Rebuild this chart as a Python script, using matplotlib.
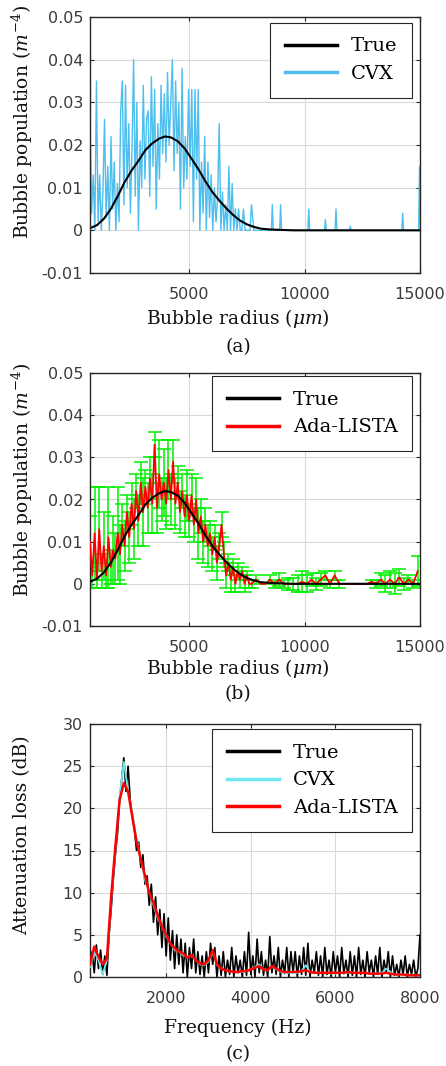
import numpy as np
import matplotlib
matplotlib.use('Agg')
import matplotlib.pyplot as plt
from matplotlib.lines import Line2D

plt.rcParams['mathtext.fontset'] = 'dejavuserif'

# ---------------- data ----------------
# True bubble population (panels a, b)
true_r = [700, 1000, 1300, 1600, 1900, 2200, 2500, 2800, 3100, 3400, 3700, 3950,
          4200, 4500, 4800, 5100, 5400, 5700, 6000, 6300, 6600, 6900, 7200, 7500,
          7800, 8100, 8500, 9000, 9500, 15000]
true_pop = [.0005, .0012, .0027, .0050, .0080, .0113, .0140, .0163, .0188, .0204, .0215, .0220,
            .0218, .0209, .0192, .0168, .0143, .0115, .0090, .0070, .0052, .0036, .0023, .0014,
            .0008, .0004, .0002, .0001, 0.0, 0.0]

# CVX estimate (panel a): dense part 700..7700 um
cvx_dense = [.027, .004, .013, .000, .035, .002, .013, .000, .009, .026,
             .003, .015, .000, .022, .005, .016, .000, .011, .002, .028,
             .035, .006, .034, .010, .025, .004, .019, .040, .008, .030,
             .000, .021, .010, .034, .012, .026, .028, .008, .036, .015,
             .033, .005, .025, .012, .034, .018, .032, .016, .037, .020,
             .030, .040, .014, .035, .018, .030, .005, .038, .010, .022,
             .012, .033, .015, .033, .002, .033, .012, .033, .000, .016,
             .004, .022, .000, .016, .003, .013, .000, .010, .002, .008,
             .025, .000, .009, .000, .006, .000, .015, .000, .011, .000,
             .005, .000, .005, .000, .000, .005, .000, .000, .000, .000,
             .006]
cvx_spike_r = [8600, 8960, 10180, 10900, 11360, 11980, 14250, 14980]
cvx_spike_h = [.006, .006, .005, .0025, .005, .001, .004, .015]

# Ada-LISTA estimate (panel b): 700..7600 step 100, then 7700..14900 step 200
ada_main = [.010, .002, .012, .001, .013, .003, .009, .002, .011, .004,
            .008, .006, .012, .007, .014, .009, .017, .011, .019, .013,
            .022, .015, .024, .017, .023, .018, .025, .019, .033, .018,
            .026, .020, .024, .019, .027, .020, .029, .019, .024, .017,
            .022, .016, .021, .015, .021, .014, .020, .012, .016, .010,
            .014, .009, .012, .007, .011, .005, .009, .014, .007, .002,
            .005, .001, .004, .000, .003, .001, .003, .000, .002, .000]
ada_main_err = [.006, .003, .011, .002, .010, .004, .008, .003, .012, .004,
                .008, .006, .011, .007, .005, .006, .004, .006, .005, .007,
                .004, .006, .005, .008, .004, .006, .005, .007, .003, .006,
                .008, .005, .008, .006, .007, .006, .005, .006, .004, .005,
                .004, .005, .006, .004, .005, .004, .005, .006, .004, .005,
                .004, .005, .003, .004, .003, .004, .003, .003, .003, .003,
                .002, .003, .002, .002, .002, .002, .001, .002, .001, .001]
ada_tail = [.000, .001, .000, .000, .001, .000, .001, .000, .000, .000,
            .000, .0005, .000, .001, .000, .001, .002, .000, .002, .000,
            .000, .000, .000, .000, .000, .000, .0005, .000, .001, .000,
            .001, .000, .0015, .000, .001, .000, .003]
ada_tail_err = [.001, .001, .000, .000, .001, .001, .0015, .001, .0015, .0015,
                .002, .0025, .002, .0015, .0015, .0015, .001, .001, .001, .001,
                .000, .000, .000, .000, .000, .000, .0005, .001, .0015, .002,
                .002, .0025, .002, .0015, .001, .001, .0035]

# Attenuation loss (panel c)
att_true = [1.0, 3.0, 0.5, 3.8, 1.0, 3.2, 0.3, 2.5, 0.2,
            5.0, 8.0, 11.5, 14.5, 17.0, 21.0, 23.5, 26.0, 22.0, 25.0, 21.0,
            19.0, 17.5, 15.0, 16.0, 13.0, 14.5, 11.0, 12.0, 8.5, 11.0,
            6.5, 9.5, 5.0, 8.0, 3.5, 7.5, 2.5, 7.0, 2.0, 5.5,
            1.0, 5.0, 1.5, 4.5, 0.5, 4.0, 0.0, 3.5, 1.0, 4.5,
            0.5, 3.0, 0.3, 2.5, 0.0, 3.0, 0.5, 4.0, 1.5, 3.5,
            0.0, 2.5, 0.2, 3.0, 0.0, 2.0, 0.3, 3.5, 0.0, 2.5,
            0.5, 2.0, 0.0, 3.0, 0.2, 5.3, 0.3, 2.5, 0.0, 4.5,
            0.5, 3.0, 0.2, 2.0, 0.0, 4.8, 0.5, 2.5, 0.3, 3.5,
            0.0, 2.0, 0.4, 3.5, 0.0, 3.0, 0.5, 3.0, 0.0, 2.5,
            0.3, 3.5, 0.2, 4.0, 0.0, 2.0, 0.5, 3.0, 0.2, 2.5,
            0.0, 3.5, 0.3, 2.0, 0.0, 3.0, 0.5, 2.5, 0.0, 3.5,
            0.4, 2.0, 0.0, 3.0, 0.2, 2.5, 0.0, 3.5, 0.3, 2.0,
            0.0, 3.0, 0.5, 2.0, 0.0, 2.5, 0.3, 3.5, 0.0, 2.0,
            0.5, 3.0, 0.0, 2.5, 0.2, 1.5, 0.0, 2.0, 0.3, 2.5,
            0.0, 1.5, 0.3, 2.0, 0.0, 1.0, 5.0]
att_ada = [1.5, 3.6, 2.4, 1.5, 2.2, 9.5, 15.5, 21.0, 23.0, 22.0,
           19.0, 16.0, 14.0, 12.0, 10.0, 8.8, 7.3, 6.0, 5.0, 4.0,
           3.4, 3.0, 2.8, 2.3, 2.6, 2.0, 1.6, 1.5, 2.0, 3.2,
           1.5, 1.0, 0.8, 0.7, 0.6, 0.6, 0.7, 0.7, 0.9, 1.1,
           1.3, 0.9, 0.8, 1.3, 1.0, 0.7, 0.6, 0.6, 0.6, 0.6,
           0.7, 0.8, 0.6, 0.5, 0.5, 0.5, 0.5, 0.5, 0.5, 0.5,
           0.5, 0.6, 0.5, 0.5, 0.5, 0.5, 0.4, 0.4, 0.4, 0.4,
           0.5, 0.4, 0.3, 0.3, 0.3, 0.2, 0.2, 0.2, 0.2]
att_cvx = [1.2, 3.0, 2.0, 0.3, 2.0, 9.0, 15.0, 21.5, 25.5, 22.0,
           19.5, 16.5, 14.0, 11.5, 10.0, 8.5, 7.0, 6.0, 4.8, 4.0,
           3.2, 3.0, 2.6, 2.4, 2.5, 2.0, 1.5, 1.4, 1.8, 3.0,
           1.4, 1.0, 0.8, 0.7, 0.6, 0.6, 0.6, 0.7, 0.9, 1.2,
           1.5, 0.9, 0.8, 1.2, 0.9, 0.6, 0.5, 0.5, 0.5, 0.5,
           0.7, 1.4, 0.6, 0.5, 0.5, 0.5, 0.5, 0.4, 0.4, 0.5,
           0.5, 0.5, 0.5, 0.5, 0.5, 0.5, 0.4, 0.4, 0.4, 0.5,
           1.0, 0.6, 0.3, 0.3, 0.3, 0.3, 0.2, 0.2, 0.2]

ytick_pop = [-0.01, 0, 0.01, 0.02, 0.03, 0.04, 0.05]
ytick_pop_lbl = ['-0.01', '0', '0.01', '0.02', '0.03', '0.04', '0.05']
xtick_r = [5000, 10000, 15000]
ytick_att = [0, 5, 10, 15, 20, 25, 30]
xtick_f = [2000, 4000, 6000, 8000]

# ---------------- figure ----------------
W, H = 446, 1066
fig = plt.figure(figsize=(W / 100, H / 100), dpi=100)

def add_ax(l, t, r, b):
    return fig.add_axes([l / W, 1 - b / H, (r - l) / W, (b - t) / H])

SERIF = 'DejaVu Serif'
TICKC = '#3a3a3a'
CVX_BLUE = '#4DBEEE'
CYAN = '#70E6EE'
GREEN = '#00F000'

def style(ax):
    ax.grid(True, color='#dadada', lw=0.8)
    ax.set_axisbelow(True)
    for s in ax.spines.values():
        s.set_color('#262626')
        s.set_linewidth(1.0)
    ax.tick_params(direction='in', length=3, width=0.8, color='#262626',
                   labelcolor=TICKC, labelsize=11.5, top=True, right=True, pad=5)
    ax.tick_params(axis='x', pad=10)
    for lbl in ax.get_xticklabels() + ax.get_yticklabels():
        lbl.set_family('DejaVu Sans')

def legend(ax, handles, labels, anchor):
    leg = ax.legend(handles, labels, loc='upper right', bbox_to_anchor=anchor,
                    borderaxespad=0, prop={'family': SERIF, 'size': 14},
                    frameon=True, fancybox=False, edgecolor='#262626', framealpha=1,
                    handlelength=2.7, handletextpad=0.7, labelspacing=0.5,
                    borderpad=0.75)
    leg.get_frame().set_linewidth(0.8)

# ---- panel (a)
axA = add_ax(90, 17, 420, 273)
r_dense = np.linspace(700, 7700, len(cvx_dense))
cvx_r = list(r_dense) + [7800]
cvx_v = list(cvx_dense) + [0.0]
for rs, hs in zip(cvx_spike_r, cvx_spike_h):
    cvx_r += [rs - 40, rs, rs + 40]
    cvx_v += [0.0, hs, 0.0]
axA.plot(cvx_r, cvx_v, color=CVX_BLUE, lw=1.0)
axA.plot(true_r, true_pop, color='black', lw=1.5)
axA.set_xlim(700, 15000)
axA.set_ylim(-0.01, 0.05)
axA.set_xticks(xtick_r)
axA.set_yticks(ytick_pop, ytick_pop_lbl)
style(axA)
legend(axA, [Line2D([], [], color='black', lw=2.5), Line2D([], [], color=CVX_BLUE, lw=2.5)],
       ['True', 'CVX'], (0.976, 0.977))

# ---- panel (b)
axB = add_ax(90, 373, 420, 626)
r_main = np.linspace(700, 7600, len(ada_main))
r_tail = np.linspace(7700, 14900, len(ada_tail))
ada_r = np.concatenate([r_main, r_tail])
ada_v = np.array(ada_main + ada_tail)
ada_e = np.array(ada_main_err + ada_tail_err)
m = ada_e > 0
axB.errorbar(ada_r[m], ada_v[m], yerr=ada_e[m], fmt='none', ecolor=GREEN,
             elinewidth=1.1, capsize=5, capthick=1.1, zorder=2)
axB.plot(ada_r, ada_v, color='#FF0000', lw=1.3, zorder=3)
axB.plot(true_r, true_pop, color='black', lw=1.5, zorder=4)
axB.set_xlim(700, 15000)
axB.set_ylim(-0.01, 0.05)
axB.set_xticks(xtick_r)
axB.set_yticks(ytick_pop, ytick_pop_lbl)
style(axB)
legend(axB, [Line2D([], [], color='black', lw=2.5), Line2D([], [], color='#FF0000', lw=2.5)],
       ['True', 'Ada-LISTA'], (0.976, 0.988))

# ---- panel (c)
axC = add_ax(90, 724, 420, 977)
f_true = np.linspace(200, 8000, len(att_true))
f_est = np.linspace(200, 8000, len(att_ada))
axC.plot(f_true, att_true, color='black', lw=1.2, zorder=2)
axC.plot(f_est, att_cvx, color=CYAN, lw=1.3, zorder=3)
axC.plot(f_est, att_ada, color='#FF0000', lw=1.8, zorder=4)
axC.set_xlim(200, 8000)
axC.set_ylim(0, 30)
axC.set_xticks(xtick_f)
axC.set_yticks(ytick_att)
style(axC)
legend(axC, [Line2D([], [], color='black', lw=2.5), Line2D([], [], color=CYAN, lw=2.5),
             Line2D([], [], color='#FF0000', lw=2.5)],
       ['True', 'CVX', 'Ada-LISTA'], (0.976, 0.980))

# ---- labels and captions
def ftext(x, y, s, **kw):
    fig.text(x / W, 1 - y / H, s, ha='center', va='center', family=SERIF,
             size=13.5, color='#111111', **kw)

ftext(22, 122, 'Bubble population ($m^{-4}$)', rotation=90)
ftext(238, 318, 'Bubble radius ($\\mu m$)')
ftext(238, 347, '(a)')
ftext(22, 480, 'Bubble population ($m^{-4}$)', rotation=90)
ftext(238, 668, 'Bubble radius ($\\mu m$)')
ftext(238, 694, '(b)')
ftext(22, 835, 'Attenuation loss (dB)', rotation=90)
ftext(238, 1028, 'Frequency (Hz)')
ftext(238, 1054, '(c)')

fig.savefig('out.png', dpi=100)
